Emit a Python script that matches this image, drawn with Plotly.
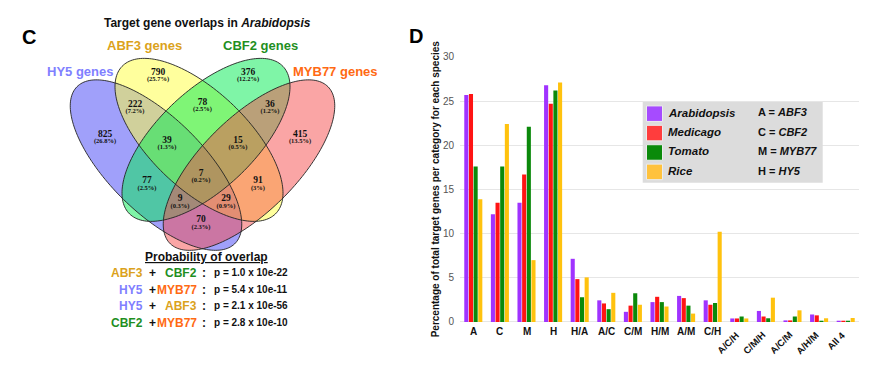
import numpy as np
import plotly.graph_objects as go

# ---------------- data: panel D (bar chart) ----------------
categories = ["A", "C", "M", "H", "H/A", "A/C", "C/M", "H/M", "A/M", "C/H",
              "A/C/H", "C/M/H", "A/C/M", "A/H/M", "All 4"]
species = ["Arabidopsis", "Medicago", "Tomato", "Rice"]
arabidopsis = [25.7, 12.2, 13.5, 26.8, 7.15, 2.45, 1.15, 2.25, 2.95, 2.45, 0.40, 1.25, 0.18, 0.85, 0.10]
medicago    = [25.8, 13.5, 16.7, 24.7, 4.85, 2.10, 1.85, 2.85, 2.70, 1.95, 0.40, 0.62, 0.18, 0.75, 0.10]
tomato      = [17.6, 17.6, 22.1, 26.2, 2.80, 1.45, 3.25, 2.25, 1.85, 2.15, 0.62, 0.42, 0.62, 0.10, 0.05]
rice        = [13.9, 22.4, 7.0, 27.1, 5.05, 3.30, 1.95, 1.75, 0.95, 10.2, 0.40, 2.75, 1.32, 0.42, 0.45]
y_ticks = [0, 5, 10, 15, 20, 25, 30]
abbrev_keys = ["A", "C", "M", "H"]
abbrev_vals = ["ABF3", "CBF2", "MYB77", "HY5"]

# ---------------- data: panel C (Venn) ----------------
set_names = ["HY5", "ABF3", "CBF2", "MYB77"]
region_ids = ["H", "A", "C", "M", "HA", "AC", "CM", "HAC", "ACM", "HACM", "HC", "AM", "HCM", "HAM", "HM"]
region_counts = [825, 790, 376, 415, 222, 78, 36, 39, 15, 7, 77, 91, 9, 29, 70]
region_pcts = ["26.8%", "25.7%", "12.2%", "13.5%", "7.2%", "2.5%", "1.2%", "1.3%", "0.5%",
               "0.2%", "2.5%", "3%", "0.3%", "0.9%", "2.3%"]
pair_left = ["ABF3", "HY5", "HY5", "CBF2"]
pair_right = ["CBF2", "MYB77", "ABF3", "MYB77"]
p_values = ["1.0 x 10e-22", "5.4 x 10e-11", "2.1 x 10e-56", "2.8 x 10e-10"]

# ---------------- styling / layout constants ----------------
W, H = 872, 370
SANS = "Liberation Sans, Arial, Helvetica, sans-serif"
SERIF = "Liberation Serif, Times New Roman, serif"
bar_colors = ["#a033ff", "#ff1414", "#0b890b", "#ffc20e"]
swatch_colors = ["#a64bff", "#ff3d3d", "#0a8a0a", "#ffc23d"]
set_text_colors = {"HY5": "#8080ff", "ABF3": "#dba21c", "CBF2": "#1f8f1f", "MYB77": "#ff6a13"}
set_fill = {"HY5": "rgba(65,65,245,0.5)", "ABF3": "rgba(255,255,60,0.5)",
            "CBF2": "rgba(0,235,80,0.5)", "MYB77": "rgba(245,75,75,0.5)"}
# ellipse geometry in pixel units: cx, cy, a, b, angle (deg, screen coords)
ellipse_geom = {"HY5": (156, 165, 113, 48, 46), "ABF3": (199, 139, 108, 49.5, 45),
                "CBF2": (206, 139, 108, 49.5, 135), "MYB77": (249, 165, 113, 48, 134)}
set_label_pos = {"HY5": (80, 69), "ABF3": (144, 42), "CBF2": (260, 42), "MYB77": (335, 69)}
region_pos = {"H": (105, 135), "A": (158, 71), "C": (248, 71), "M": (300, 135),
              "HA": (135, 104), "AC": (202.5, 102), "CM": (270, 104),
              "HAC": (167, 141), "ACM": (238, 141), "HACM": (201, 175),
              "HC": (147, 183), "AM": (258, 183), "HCM": (180, 201.5),
              "HAM": (226, 201.5), "HM": (201, 223)}


def PX(x):
    return x / W


def PY(y):
    return 1 - y / H


def ellipse_path(cx, cy, a, b, ang, n=180):
    t = np.linspace(0, 2 * np.pi, n)
    p = np.radians(ang)
    xs = cx + a * np.cos(t) * np.cos(p) - b * np.sin(t) * np.sin(p)
    ys = cy + a * np.cos(t) * np.sin(p) + b * np.sin(t) * np.cos(p)
    pts = " L ".join(f"{x:.2f},{y:.2f}" for x, y in zip(xs, ys))
    return "M " + pts + " Z"


def ann(x, y, text, size, color="#111", xa="center", ya="middle", family=SANS, **kw):
    d = dict(x=PX(x), y=PY(y), xref="paper", yref="paper", text=text, showarrow=False,
             xanchor=xa, yanchor=ya, font=dict(family=family, size=size, color=color))
    d.update(kw)
    return d


fig = go.Figure()

# ---- bars ----
for name, vals, col in zip(species, [arabidopsis, medicago, tomato, rice], bar_colors):
    fig.add_trace(go.Bar(x=categories, y=vals, name=name, marker=dict(color=col, line=dict(width=0)),
                         xaxis="x", yaxis="y", showlegend=False, hoverinfo="x+y+name"))

# ---- Venn region labels ----
fig.add_trace(go.Scatter(
    x=[region_pos[r][0] for r in region_ids], y=[region_pos[r][1] - 1.5 for r in region_ids],
    text=[f"<b>{c}</b>" for c in region_counts], mode="text",
    textfont=dict(family=SERIF, size=9.5, color="#111"), xaxis="x2", yaxis="y2",
    showlegend=False, hoverinfo="skip"))
fig.add_trace(go.Scatter(
    x=[region_pos[r][0] for r in region_ids], y=[region_pos[r][1] + 6 for r in region_ids],
    text=[f"<b>({p})</b>" for p in region_pcts], mode="text",
    textfont=dict(family=SERIF, size=6.5, color="#111"), xaxis="x2", yaxis="y2",
    showlegend=False, hoverinfo="skip"))

shapes = []
for s in set_names:
    shapes.append(dict(type="path", xref="x2", yref="y2", path=ellipse_path(*ellipse_geom[s]),
                       fillcolor=set_fill[s], line=dict(width=0), layer="below"))
for s in set_names:
    shapes.append(dict(type="path", xref="x2", yref="y2", path=ellipse_path(*ellipse_geom[s]),
                       fillcolor="rgba(0,0,0,0)", line=dict(color="#222", width=0.9), layer="below"))

# ---- legend box (manual) ----
shapes.append(dict(type="rect", xref="paper", yref="paper", x0=PX(642.7), x1=PX(822.7),
                   y0=PY(183.3), y1=PY(100), fillcolor="#dcdcdc", line=dict(width=0), layer="above"))
sw_y = [104, 124, 144, 164]
for yy, col in zip(sw_y, swatch_colors):
    shapes.append(dict(type="rect", xref="paper", yref="paper", x0=PX(646.5), x1=PX(662.5),
                       y0=PY(yy + 16), y1=PY(yy), fillcolor=col, line=dict(color="#ececec", width=1),
                       layer="above"))

annotations = []
for sp, yy in zip(species, [111.7, 130.5, 150.5, 170.7]):
    annotations.append(ann(665.5, yy, f"<b><i>{sp}</i></b>", 11.5, xa="left"))
for k, v, yy in zip(abbrev_keys, abbrev_vals, [110.7, 130.7, 150.7, 170.7]):
    annotations.append(ann(756, yy, f"<b>{k} = <i>{v}</i></b>", 11, xa="left"))

# x tick labels of the bar chart
for i, c in enumerate(categories):
    if i < 10:
        annotations.append(dict(x=c, xref="x", y=PY(336.7), yref="paper", text=f"<b>{c}</b>",
                                showarrow=False, xanchor="center", yanchor="middle",
                                font=dict(family=SANS, size=10, color="#111")))
    else:
        annotations.append(dict(x=c, xref="x", y=PY(331.5), yref="paper", text=f"<b>{c}</b>",
                                showarrow=False, xanchor="right", yanchor="top", textangle=-45,
                                xshift=5, font=dict(family=SANS, size=9.5, color="#111")))

annotations.append(ann(435, 190, "<b>Percentage of total target genes per category for each species</b>",
                       10, textangle=-90))
annotations.append(ann(29, 33, "<b>C</b>", 20, color="#000"))
annotations.append(ann(416, 32, "<b>D</b>", 20, color="#000"))
annotations.append(ann(207, 19, "<b>Target gene overlaps in <i>Arabidopsis</i></b>", 12))
for s in set_names:
    annotations.append(ann(set_label_pos[s][0], set_label_pos[s][1], f"<b>{s} genes</b>", 13,
                           color=set_text_colors[s]))

annotations.append(ann(206, 259.5, "<b><u>Probability of overlap</u></b>", 12))
for l, r, p, yy in zip(pair_left, pair_right, p_values, [276, 293.3, 310, 327.3]):
    annotations.append(ann(144.5, yy, f"<b>{l}</b>", 12, color=set_text_colors[l], xa="right"))
    annotations.append(ann(152.7, yy, "<b>+</b>", 12))
    annotations.append(ann(199, yy, f"<b>{r}</b>", 12, color=set_text_colors[r], xa="right"))
    annotations.append(ann(203.5, yy, "<b>:</b>", 12))
    annotations.append(ann(211.5, yy, f"<b>p = {p}</b>", 10, xa="left"))

fig.update_layout(
    width=W, height=H, margin=dict(l=0, r=0, t=0, b=0),
    paper_bgcolor="white", plot_bgcolor="white",
    barmode="group", bargap=0.3, bargroupgap=0.12,
    xaxis=dict(domain=[PX(460), PX(859)], type="category", showticklabels=False, showgrid=False,
               zeroline=False, showline=False, ticks="", fixedrange=True),
    yaxis=dict(domain=[PY(326.7), PY(53.3)], range=[0, 30.02], tickvals=y_ticks,
               showgrid=True, gridcolor="#e6e6e6", gridwidth=1, zeroline=True, zerolinecolor="#e6e6e6",
               zerolinewidth=1, showline=False, ticks="", ticklabelstandoff=5,
               tickfont=dict(family=SANS, size=10, color="#555"), fixedrange=True),
    xaxis2=dict(domain=[0, PX(436)], range=[0, 436], visible=False, fixedrange=True),
    yaxis2=dict(domain=[0, 1], range=[370, 0], visible=False, fixedrange=True),
    shapes=shapes, annotations=annotations, showlegend=False,
)

fig.write_html("out.html", config={"displayModeBar": False},
               post_script="document.body.style.margin='0';document.body.style.overflow='hidden';")
